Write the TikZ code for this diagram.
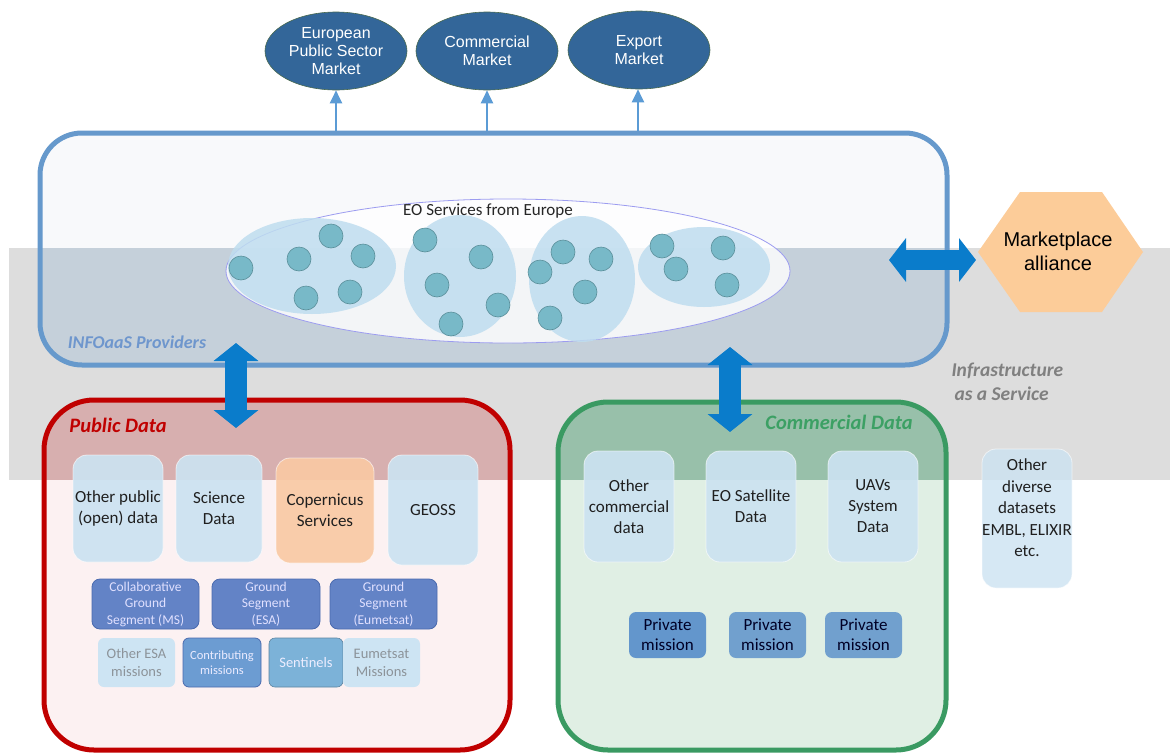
\documentclass[tikz,border=0pt]{standalone}
\usepackage{fontspec}
\setmainfont{Carlito}
\newfontfamily\arialf{Liberation Sans}
\usetikzlibrary{arrows.meta,shapes.geometric}
\definecolor{bandgray}{HTML}{DDDDDD}
\definecolor{infotop}{HTML}{F8F9FB}
\definecolor{infoband}{HTML}{C5D0DA}
\definecolor{infoblue}{HTML}{6699CC}
\definecolor{infotext}{HTML}{6E96CD}
\definecolor{pubtop}{HTML}{D7AFAF}
\definecolor{pubbot}{HTML}{FCF1F2}
\definecolor{pubred}{HTML}{C00000}
\definecolor{comtop}{HTML}{98C0AA}
\definecolor{combot}{HTML}{E0EFE4}
\definecolor{comgreen}{HTML}{3A9A62}
\definecolor{comtext}{HTML}{3CA064}
\definecolor{marketblue}{HTML}{336699}
\definecolor{mkarrowc}{HTML}{5B9BD5}
\definecolor{bigblue}{HTML}{0A7CCB}
\definecolor{hexorange}{HTML}{FCCC99}
\definecolor{lightbox}{HTML}{CCE2F1}
\definecolor{copbox}{HTML}{F9C9A4}
\definecolor{darkbox}{HTML}{6383C6}
\definecolor{darkboxb}{HTML}{4A6AAE}
\definecolor{contribc}{HTML}{6C9CD2}
\definecolor{sentc}{HTML}{7CB2D8}
\definecolor{palec}{HTML}{CDE4F3}
\definecolor{palet}{HTML}{8C9399}
\definecolor{privc}{HTML}{6396CC}
\definecolor{privc2}{HTML}{71A0CE}
\definecolor{subell}{HTML}{BFDDEF}
\definecolor{dotc}{HTML}{78B9C8}
\definecolor{dotb}{HTML}{5A8F9A}
\definecolor{eoline}{HTML}{9C9CF0}
\definecolor{mkborder}{HTML}{4A6A50}
\tikzset{
  market/.style={ellipse, fill=marketblue, draw=mkborder, line width=0.6,
    minimum width=142, minimum height=78, inner sep=0, text=white, align=center,
    font=\arialf\fontsize{16}{18}\selectfont},
  mkarrow/.style={draw=mkarrowc, line width=2, -{Triangle[length=13pt,width=12pt]}},
  bigarrow/.style={draw=bigblue, line width=22,
    {Triangle[length=18pt,width=44pt]}-{Triangle[length=18pt,width=44pt]}},
  hbigarrow/.style={draw=bigblue, line width=20,
    {Triangle[length=17pt,width=43pt]}-{Triangle[length=17pt,width=43pt]}},
  subgroup/.style={ellipse, fill=subell, fill opacity=0.85, inner sep=0},
  dot/.style={circle, fill=dotc, draw=dotb, line width=0.6, minimum size=24, inner sep=0},
  lbox/.style={rounded corners=14, fill=#1, fill opacity=0.92, text opacity=1,
    draw=white, draw opacity=0.6, line width=0.8, align=center, inner sep=0,
    font=\fontsize{17}{21}\selectfont, text=black!88},
  dbox/.style={rounded corners=8, fill=darkbox, draw=darkboxb, line width=0.8,
    align=center, inner sep=0, text=white!88!blue, font=\fontsize{13.5}{16.5}\selectfont,
    minimum width=107, minimum height=50},
  mbox/.style={rounded corners=6, fill=#1, align=center, inner sep=0,
    minimum height=49, font=\fontsize{14.5}{18}\selectfont},
  pbox/.style={rounded corners=7, fill=#1, align=center, inner sep=0,
    minimum width=77, minimum height=46, text=black!85!blue, font=\fontsize{17}{20}\selectfont},
  grouplabel/.style={font=\bfseries\itshape\fontsize{20.5}{24}\selectfont}
}
\begin{document}
\begin{tikzpicture}[x=1pt,y=-1pt]
\useasboundingbox (0,0) rectangle (1176,753);
% infrastructure band
\fill[bandgray] (9,248) rectangle (1170,480);

% INFOaaS providers box
\fill[infotop, rounded corners=42] (40,133) rectangle (947,365);
\begin{scope}
  \clip[rounded corners=42] (40,133) rectangle (947,365);
  \fill[infoband] (0,248) rectangle (1176,480);
\end{scope}
\draw[infoblue, line width=5, rounded corners=42] (40,133) rectangle (947,365);
\node[text=infotext, font=\bfseries\itshape\fontsize{18}{21}\selectfont] (infolbl) at (137,342) {INFOaaS Providers};

% markets
\node[market] (m1) at (336,51) {European\\Public Sector\\Market};
\node[market] (m2) at (487,51) {Commercial\\Market};
\node[market] (m3) at (639,50) {Export\\Market};
\coordinate (i1) at (336,131);
\coordinate (i2) at (487,131);
\coordinate (i3) at (638,131);
\draw[mkarrow] (i1) -- (m1.south);
\draw[mkarrow] (i2) -- (m2.south);
\draw[mkarrow] (i3) -- (m3.south -| i3);

% EO services
\node[ellipse, minimum width=564, minimum height=144, inner sep=0, fill=white, fill opacity=0.8,
      draw=eoline, line width=0.8] (eo) at (508,271) {};
\node[subgroup, minimum width=168, minimum height=96] (g1) at (312,266) {};
\node[subgroup, minimum width=112, minimum height=122] (g2) at (460,276) {};
\node[subgroup, minimum width=106, minimum height=126] (g3) at (582,279) {};
\node[subgroup, minimum width=132, minimum height=80] (g4) at (704,267) {};
\node[font=\fontsize{17}{20}\selectfont, text=black!85] (eolbl) at (488,211) {EO Services from Europe};
\foreach \x/\y [count=\i] in {241/268,299/259,331/236,363/256,306/298,350/292,
  425/240,437/285,481/257,498/305,451/324,
  540/272,563/252,601/259,585/292,550/318,
  662/246,676/269,723/248,727/285}
  \node[dot] (d\i) at (\x,\y) {};

% marketplace alliance
\fill[hexorange] (978,252) -- (1020,192) -- (1102,192) -- (1143,252) -- (1102,312) -- (1020,312) -- cycle;
\node[align=center, font=\arialf\fontsize{20}{24}\selectfont, text=black] (mp) at (1058,251) {Marketplace\\alliance};
\coordinate (h1) at (889,260);
\coordinate (h2) at (976,260);
\draw[hbigarrow] (h1) -- (h2);

% infrastructure label
\node[anchor=west, align=left, text=gray, font=\bfseries\itshape\fontsize{19.5}{24}\selectfont] (iaas) at (948,382)
  {Infrastructure\\\hspace*{3pt}as a Service};

% Public data box
\fill[pubbot, rounded corners=50] (44,400) rectangle (510,750);
\begin{scope}
  \clip[rounded corners=50] (44,400) rectangle (510,750);
  \fill[pubtop] (0,248) rectangle (1176,480);
\end{scope}
\draw[pubred, line width=5, rounded corners=50] (44,400) rectangle (510,750);
\node[grouplabel, text=pubred] (publbl) at (118,425) {Public Data};

% Commercial data box
\fill[combot, rounded corners=50] (558,402) rectangle (946,750);
\begin{scope}
  \clip[rounded corners=50] (558,402) rectangle (946,750);
  \fill[comtop] (0,248) rectangle (1176,480);
\end{scope}
\draw[comgreen, line width=5, rounded corners=50] (558,402) rectangle (946,750);
\node[grouplabel, text=comtext] (comlbl) at (839,422) {Commercial Data};

% vertical double arrows
\coordinate (a1t) at (236,343);
\coordinate (a1b) at (236,428);
\draw[bigarrow] (a1t) -- (a1b);
\coordinate (a2t) at (730,347);
\coordinate (a2b) at (730,432);
\draw[bigarrow] (a2t) -- (a2b);

% public data contents
\node[lbox=lightbox, minimum width=90, minimum height=107] (opd) at (118,508.5) {Other public\\(open) data};
\node[lbox=lightbox, minimum width=86, minimum height=107] (sci) at (219,508.5) {Science\\Data};
\node[lbox=copbox, minimum width=98, minimum height=105] (cop) at (325,510.5) {Copernicus\\Services};
\node[lbox=lightbox, minimum width=90, minimum height=110] (geo) at (433,510) {GEOSS};

\node[dbox] (cgs) at (145.5,604) {Collaborative\\Ground\\Segment (MS)};
\node[dbox, minimum width=108] (gsesa) at (266,604) {Ground\\Segment\\(ESA)};
\node[dbox] (gseum) at (383.5,604) {Ground\\Segment\\(Eumetsat)};

\node[mbox=palec, minimum width=77, text=palet] (oesa) at (136.5,662.5) {Other ESA\\missions};
\node[mbox=contribc, minimum width=78, draw=darkboxb, line width=0.8, text=white!92!blue,
      font=\fontsize{12.5}{15.5}\selectfont] (contrib) at (222,662.5) {Contributing\\missions};
\node[mbox=sentc, minimum width=74, draw=sentc!75!black, line width=0.6, text=white!93!blue] (sent) at (306,662.5) {Sentinels};
\node[mbox=palec, minimum width=77, text=palet] (eumm) at (381.5,662.5) {Eumetsat\\Missions};

% commercial contents
\node[lbox=lightbox, minimum width=90, minimum height=111] (ocd) at (629,506.5) {Other\\commercial\\data};
\node[lbox=lightbox, minimum width=90, minimum height=111] (eos) at (751,506.5) {EO Satellite\\Data};
\node[lbox=lightbox, minimum width=90, minimum height=111] (uav) at (873,506.5) {UAVs\\System\\Data};
\node[pbox=privc] (pm1) at (667.5,635) {Private\\mission};
\node[pbox=privc2] (pm2) at (767.5,635) {Private\\mission};
\node[pbox=privc2] (pm3) at (863.5,635) {Private\\mission};

% other diverse datasets
\node[lbox=lightbox, fill opacity=0.8, minimum width=90, minimum height=139] (odd) at (1027,518.5) {};
\node[align=center, inner sep=0, font=\fontsize{17}{21.5}\selectfont, text=black!88] (oddtxt) at (1027,508)
  {Other\\diverse\\datasets\\EMBL, ELIXIR\\etc.};
\end{tikzpicture}
\end{document}
